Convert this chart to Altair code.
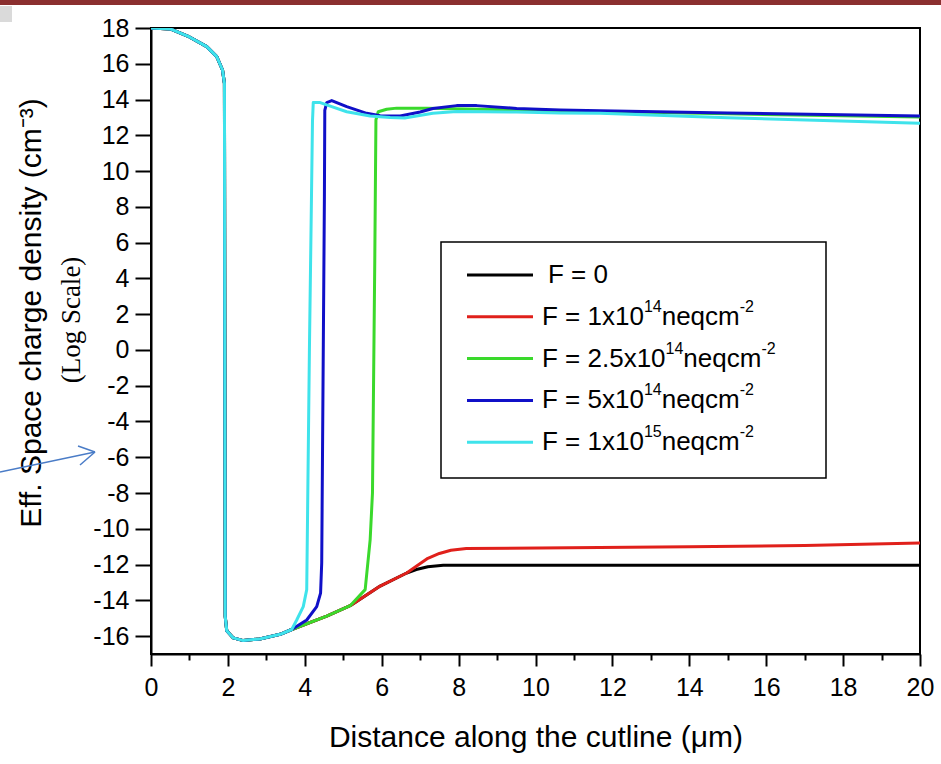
import altair as alt
import pandas as pd

# ---- data (x in um, y = log10 of |Neff|, signed) ----
# common start shared by every curve (0 -> 3.66 um)
head_x = [0.0, 0.5, 1.0, 1.45, 1.71, 1.86, 1.91, 1.93, 1.97, 2.14, 2.4, 2.83, 3.36, 3.66]
head_y = [18.0, 17.95, 17.5, 16.96, 16.4, 15.65, 14.9, -14.9, -15.7, -16.1, -16.25, -16.16, -15.9, -15.63]

f0_x = head_x + [4.57, 5.18, 5.96, 6.65, 6.9, 7.2, 7.6, 10.0, 14.0, 20.0]
f0_y = head_y + [-14.88, -14.3, -13.2, -12.47, -12.28, -12.12, -12.04, -12.04, -12.04, -12.04]

f1_x = head_x + [4.57, 5.18, 5.96, 6.65, 6.9, 7.2, 7.5, 7.8, 8.2, 10.1, 14.0, 17.0, 20.0]
f1_y = head_y + [-14.88, -14.3, -13.2, -12.47, -12.1, -11.65, -11.38, -11.2, -11.1, -11.07, -11.0, -10.93, -10.8]

f25_x = head_x + [4.57, 5.18, 5.57, 5.70, 5.76, 5.82, 5.85, 5.91, 6.13, 6.39, 7.17, 7.5, 8.2, 9.0, 10.5, 12.0, 15.0, 20.0]
f25_y = head_y + [-14.88, -14.3, -13.4, -10.6, -8.0, 5.0, 12.86, 13.32, 13.46, 13.52, 13.52, 13.5, 13.47, 13.44, 13.38, 13.32, 13.2, 13.02]

f5_x = head_x + [4.05, 4.31, 4.41, 4.44, 4.51, 4.52, 4.57, 4.7, 5.09, 5.61, 5.96, 6.48, 7.0, 7.33, 7.95, 8.47, 9.51, 10.64, 11.68, 15.0, 20.0]
f5_y = head_y + [-15.1, -14.35, -13.6, -11.9, 8.6, 13.4, 13.83, 13.94, 13.6, 13.23, 13.1, 13.08, 13.3, 13.5, 13.66, 13.66, 13.5, 13.42, 13.38, 13.25, 13.08]

f15_x = head_x + [3.79, 3.96, 4.05, 4.12, 4.2, 4.22, 4.4, 4.7, 5.09, 5.7, 6.22, 6.6, 7.33, 7.95, 9.51, 10.64, 11.68, 15.0, 20.0]
f15_y = head_y + [-15.1, -14.35, -13.4, 0.0, 12.8, 13.83, 13.83, 13.6, 13.32, 13.08, 13.0, 12.97, 13.23, 13.33, 13.3, 13.25, 13.23, 12.98, 12.68]

# legend text pieces: base, superscript, unit, unit superscript
legend_base = ["F = 0", "F = 1x10", "F = 2.5x10", "F = 5x10", "F = 1x10"]
legend_exp = ["", "14", "14", "14", "15"]
legend_unit = ["", "neqcm", "neqcm", "neqcm", "neqcm"]
legend_uexp = ["", "-2", "-2", "-2", "-2"]
labels = ["F = 0", "F = 1x10^14 neqcm^-2", "F = 2.5x10^14 neqcm^-2",
          "F = 5x10^14 neqcm^-2", "F = 1x10^15 neqcm^-2"]
colors = ["#000000", "#E0201B", "#3AD92C", "#1010C8", "#3FE3EB"]
series_x = [f0_x, f1_x, f25_x, f5_x, f15_x]
series_y = [f0_y, f1_y, f25_y, f5_y, f15_y]

x_ticks = list(range(0, 21))
y_ticks = list(range(-16, 19, 2))

rows = []
for name, xs, ys in zip(labels, series_x, series_y):
    for i, (xv, yv) in enumerate(zip(xs, ys)):
        rows.append({"series": name, "i": i, "x": xv, "y": yv})
df = pd.DataFrame(rows)

REG = "Liberation Sans, Arial, sans-serif"
SERIF = "Liberation Serif, Times New Roman, serif"

# Arial / Liberation Sans advance widths (per 1000 em) for legend layout
ADV = {" ": 278, "0": 556, "1": 556, "2": 556, "3": 556, "4": 556, "5": 556, "6": 556,
       "7": 556, "8": 556, "9": 556, ".": 278, "=": 584, "F": 611, "x": 500, "n": 556,
       "e": 556, "q": 556, "c": 500, "m": 833, "-": 333}


def text_width(s, size):
    return sum(ADV.get(ch, 556) for ch in s) * size / 1000.0


lines = alt.Chart(df).mark_line(strokeWidth=3, strokeJoin="round", clip=True).encode(
    x=alt.X("x:Q", scale=alt.Scale(domain=[0, 20], nice=False, zero=False),
            axis=alt.Axis(values=x_ticks,
                          labelExpr="datum.value % 2 == 0 ? '' + datum.value : ''",
                          tickSize={"condition": {"test": "datum.value % 2 == 0", "value": 12}, "value": 6},
                          labelPadding=9, labelFlush=False, labelOverlap=False,
                          title="Distance along the cutline (\u03bcm)",
                          titleFont=REG, titleFontSize=30, titleFontWeight="normal",
                          titlePadding=22, titleColor="black")),
    y=alt.Y("y:Q", scale=alt.Scale(domain=[-17, 18], nice=False, zero=False),
            axis=alt.Axis(values=y_ticks, labelExpr="'' + datum.value",
                          tickSize=16, labelPadding=6, labelFlush=False,
                          labelOverlap=False, title="")),
    color=alt.Color("series:N", scale=alt.Scale(domain=labels, range=colors), legend=None),
    order=alt.Order("i:Q"),
)

layers = []
# slide decoration: dark red band at the top and grey corner
layers.append(alt.Chart().mark_rect(color="#8B2F2F").encode(
    x=alt.value(-151), x2=alt.value(790), y=alt.value(-28), y2=alt.value(-23)))
layers.append(alt.Chart().mark_rect(color="#dadada").encode(
    x=alt.value(-151), x2=alt.value(-139), y=alt.value(-22), y2=alt.value(-6)))

layers.append(lines)

# legend box
layers.append(alt.Chart().mark_rect(fill="white", stroke="black", strokeWidth=1.5).encode(
    x=alt.value(290), x2=alt.value(675), y=alt.value(214), y2=alt.value(450)))
MAIN, SUP = 26, 16
for k, col in enumerate(colors):
    yy = 247 + 41.8 * k
    layers.append(alt.Chart().mark_rule(color=col, strokeWidth=3).encode(
        x=alt.value(316), x2=alt.value(382), y=alt.value(yy)))
    x0 = 397 if k == 0 else 391
    pieces = [(legend_base[k], MAIN, 0), (legend_exp[k], SUP, -10),
              (legend_unit[k], MAIN, 0), (legend_uexp[k], SUP, -10)]
    for txt, size, dy in pieces:
        if txt:
            layers.append(alt.Chart().mark_text(text=txt, align="left", baseline="middle",
                                                font=REG, fontSize=size, color="black").encode(
                x=alt.value(x0), y=alt.value(yy + dy)))
            x0 += text_width(txt, size)

# y-axis title (two lines)
layers.append(alt.Chart().mark_text(text="Eff. Space charge density (cm\u207b\u00b3)", angle=270,
                                    align="center", baseline="alphabetic",
                                    font=REG, fontSize=30, color="black").encode(
    x=alt.value(-110), y=alt.value(285)))
layers.append(alt.Chart().mark_text(text="(Log Scale)", angle=270, align="center",
                                    baseline="alphabetic", font=SERIF,
                                    fontSize=27, color="black").encode(
    x=alt.value(-71), y=alt.value(292)))

# blue annotation arrow
ac = "#4A7CC7"
layers.append(alt.Chart().mark_rule(color=ac, strokeWidth=1.5).encode(
    x=alt.value(-151), x2=alt.value(-56), y=alt.value(444), y2=alt.value(424)))
layers.append(alt.Chart().mark_rule(color=ac, strokeWidth=1.5).encode(
    x=alt.value(-56), x2=alt.value(-73), y=alt.value(424), y2=alt.value(418)))
layers.append(alt.Chart().mark_rule(color=ac, strokeWidth=1.5).encode(
    x=alt.value(-56), x2=alt.value(-71), y=alt.value(424), y2=alt.value(437)))

chart = alt.layer(*layers).properties(
    width=769, height=626,
    autosize=alt.AutoSizeParams(type="none"),
    padding={"left": 151, "top": 28, "right": 21, "bottom": 110},
    background="white",
).configure_view(stroke="black", strokeWidth=2).configure_axis(
    domainColor="black", domainWidth=2, tickColor="black", tickWidth=2,
    labelColor="black", labelFont=REG, labelFontSize=25, grid=False,
)

chart.save("out.html", embed_options={"renderer": "svg", "actions": False})
